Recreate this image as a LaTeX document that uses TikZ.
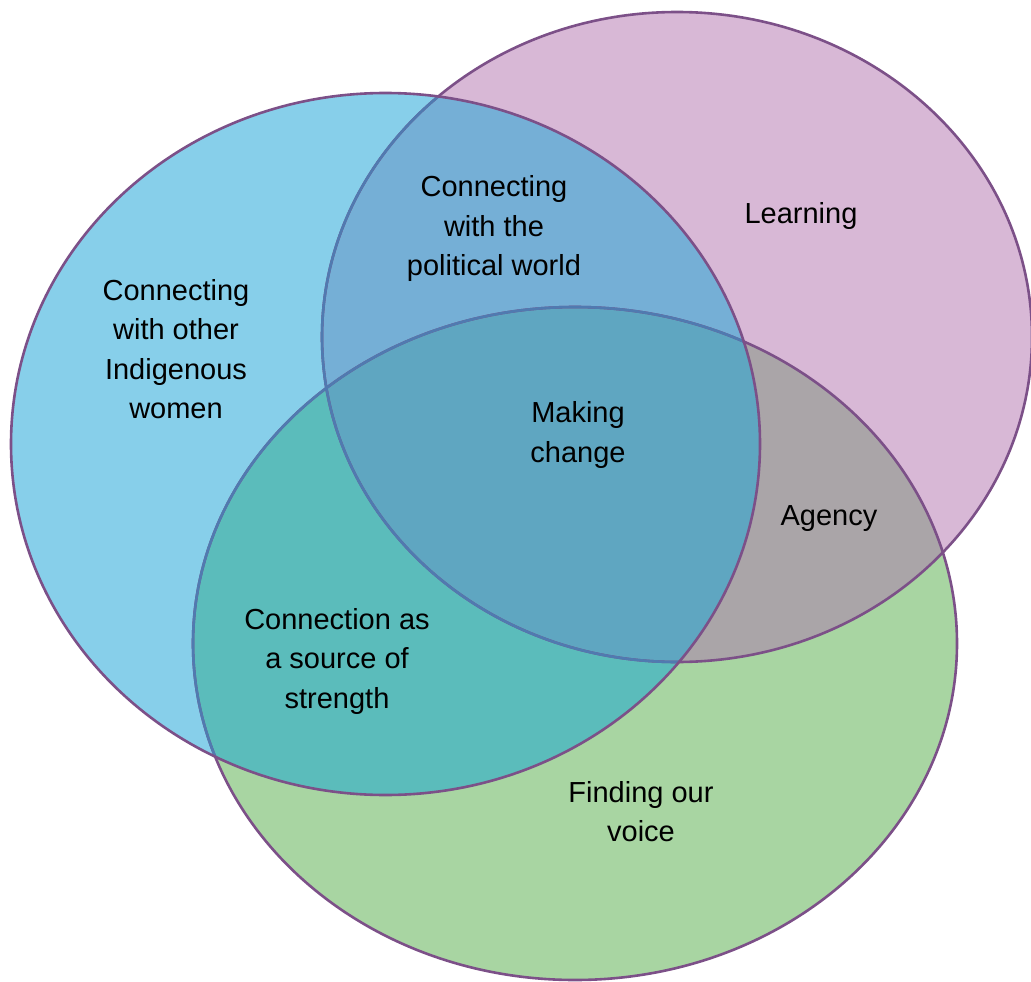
\documentclass[tikz,border=0pt]{standalone}
\usepackage{fontspec}
\setmainfont{Liberation Sans}
\definecolor{cBlue}{RGB}{135,207,234}
\definecolor{cPink}{RGB}{216,184,214}
\definecolor{cGreen}{RGB}{168,213,162}
\definecolor{cBluePink}{RGB}{117,175,214}
\definecolor{cBlueGreen}{RGB}{91,188,187}
\definecolor{cPinkGreen}{RGB}{170,165,168}
\definecolor{cAll}{RGB}{95,166,193}
\definecolor{cEdge}{RGB}{124,80,136}
\definecolor{cEdgeBlue}{RGB}{80,122,176}
\tikzset{
  edge/.style={line width=2.6pt, draw=cEdge},
  edgeblue/.style={line width=2.6pt, draw=cEdgeBlue},
  lbl/.style={align=center, font=\fontsize{29}{39.5}\selectfont, inner sep=0pt}
}
\def\blueE{(385.5,444) ellipse [x radius=374.5, y radius=351]}
\def\pinkE{(677,337) ellipse [x radius=355, y radius=325]}
\def\greenE{(575,643.5) ellipse [x radius=382, y radius=336.5]}
\begin{document}
\begin{tikzpicture}[x=1pt,y=-1pt]
\useasboundingbox (0,0) rectangle (1031,982);
% single sets
\fill[cBlue] \blueE;
\fill[cPink] \pinkE;
\fill[cGreen] \greenE;
% pairwise overlaps
\begin{scope}
  \clip \blueE;
  \fill[cBluePink] \pinkE;
  \fill[cBlueGreen] \greenE;
\end{scope}
\begin{scope}
  \clip \pinkE;
  \fill[cPinkGreen] \greenE;
\end{scope}
% centre region
\begin{scope}
  \clip \blueE;
  \clip \pinkE;
  \fill[cAll] \greenE;
\end{scope}
% outlines
\draw[edge] \pinkE;
\draw[edge] \greenE;
\begin{scope}
  \clip \blueE;
  \draw[edgeblue] \pinkE;
  \draw[edgeblue] \greenE;
\end{scope}
\draw[edge] \blueE;
% labels
\node[lbl] (women) at (176,349) {Connecting\\with other\\Indigenous\\women};
\node[lbl] (political) at (494,229) {Connecting\\with the\\political world};
\node[lbl] (learning) at (801,216) {Learning};
\node[lbl] (change) at (578,435) {Making\\change};
\node[lbl] (agency) at (829,519) {Agency};
\node[lbl] (strength) at (337,661) {Connection as\\a source of\\strength};
\node[lbl] (voice) at (641,811.5) {Finding our\\voice};
\end{tikzpicture}
\end{document}
